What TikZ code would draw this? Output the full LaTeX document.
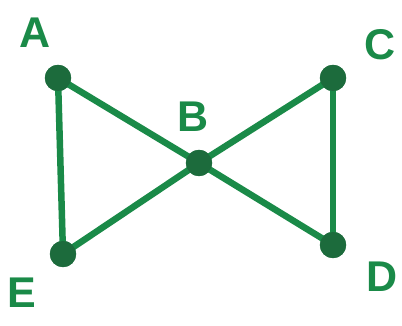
\documentclass[tikz,border=0pt]{standalone}
\usepackage{fontspec}
\setmainfont{Liberation Sans}
\usepackage{xcolor}
\usetikzlibrary{positioning}

\definecolor{penline}{HTML}{1A8A48}
\definecolor{pendot}{HTML}{1C6B3C}

\begin{document}
\begin{tikzpicture}[
  x=1pt, y=1pt,
  vertex/.style={circle, fill=pendot, draw=pendot, inner sep=0pt, minimum size=26pt},
  edge/.style={penline, line width=6.5pt, line cap=round},
  vlabel/.style={text=penline, font=\fontsize{43}{43}\selectfont\bfseries, inner sep=0pt}
]

\useasboundingbox (0,0) rectangle (402,326);

% Vertices
\node[vertex] (a) at (58,248) {};
\node[vertex] (c) at (333,248) {};
\node[vertex] (b) at (199,163) {};
\node[vertex] (e) at (63,72) {};
\node[vertex] (d) at (333,81) {};

% Edges
\draw[edge] (a.center) -- (b.center);
\draw[edge] (b.center) -- (c.center);
\draw[edge] (b.center) -- (d.center);
\draw[edge] (b.center) -- (e.center);
\draw[edge] (a.center) -- (e.center);
\draw[edge] (c.center) -- (d.center);

% Redraw dots on top
\foreach \v in {a,b,c,d,e}
  \fill[pendot] (\v) circle (13pt);

% Labels
\node[vlabel] (la) at (35,293) {A};
\node[vlabel] (lc) at (380,281) {C};
\node[vlabel] (lb) at (193,209) {B};
\node[vlabel] (le) at (22,33) {E};
\node[vlabel] (ld) at (382,49) {D};

\end{tikzpicture}
\end{document}
